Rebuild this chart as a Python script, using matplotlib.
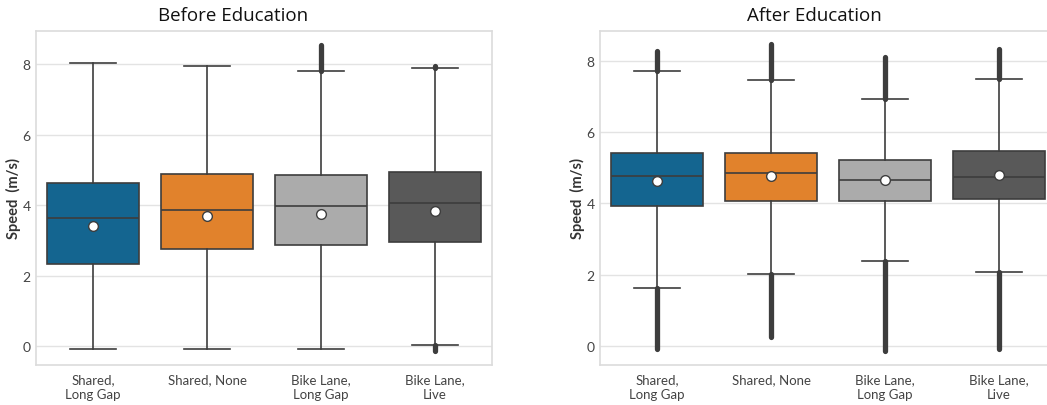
import matplotlib
matplotlib.use("Agg")
import matplotlib.pyplot as plt

plt.rcParams['font.family'] = ['Lato', 'DejaVu Sans']

categories = ["Shared,\nLong Gap", "Shared, None", "Bike Lane,\nLong Gap", "Bike Lane,\nLive"]
box_colors = ["#146590", "#E1822C", "#ABABAB", "#595959"]

# Before education: box statistics (m/s)
before_whislo = [-0.08, -0.08, -0.08, 0.02]
before_q1 = [2.33, 2.76, 2.87, 2.96]
before_med = [3.64, 3.87, 3.97, 4.05]
before_q3 = [4.63, 4.87, 4.85, 4.93]
before_whishi = [8.03, 7.96, 7.81, 7.88]
before_mean = [3.41, 3.68, 3.75, 3.83]
before_out_lo = [None, None, None, -0.14]
before_out_hi = [None, None, 8.55, 7.95]

# After education: box statistics (m/s)
after_whislo = [1.64, 2.02, 2.38, 2.09]
after_q1 = [3.92, 4.06, 4.07, 4.11]
after_med = [4.76, 4.85, 4.65, 4.73]
after_q3 = [5.42, 5.40, 5.21, 5.47]
after_whishi = [7.70, 7.45, 6.93, 7.49]
after_mean = [4.62, 4.78, 4.66, 4.80]
after_out_lo = [-0.08, 0.26, -0.15, -0.08]
after_out_hi = [8.28, 8.47, 8.10, 8.33]

LINE = "#3d3d3d"
W, H = 1047, 406

fig = plt.figure(figsize=(W / 100, H / 100), dpi=100)
fig.patch.set_facecolor("white")


def draw_panel(ax, whislo, q1, med, q3, whishi, mean, out_lo, out_hi, ylim):
    stats = []
    for i in range(len(categories)):
        stats.append(dict(whislo=whislo[i], q1=q1[i], med=med[i], q3=q3[i],
                          whishi=whishi[i], mean=mean[i], fliers=[]))
    positions = list(range(len(categories)))
    bp = ax.bxp(stats, positions=positions, widths=0.8, patch_artist=True,
                showmeans=True, showfliers=False,
                boxprops=dict(edgecolor=LINE, linewidth=1.2),
                medianprops=dict(color=LINE, linewidth=1.2),
                whiskerprops=dict(color=LINE, linewidth=1.2),
                capprops=dict(color=LINE, linewidth=1.2),
                meanprops=dict(marker='o', markerfacecolor='white',
                               markeredgecolor=LINE, markersize=7,
                               markeredgewidth=1.0))
    for patch, c in zip(bp['boxes'], box_colors):
        patch.set_facecolor(c)
    # dense outlier runs beyond the whiskers
    for i in positions:
        if out_hi[i] is not None:
            ax.plot([i, i], [whishi[i], out_hi[i]], color=LINE, lw=3.8,
                    solid_capstyle='round', zorder=3)
        if out_lo[i] is not None:
            ax.plot([i, i], [out_lo[i], whislo[i]], color=LINE, lw=3.8,
                    solid_capstyle='round', zorder=3)
    ax.set_xlim(-0.5, len(categories) - 0.5)
    ax.set_ylim(*ylim)
    ax.set_yticks([0, 2, 4, 6, 8])
    ax.set_xticks(positions)
    ax.set_xticklabels(categories, fontsize=9.5, color="#444444", linespacing=1.3,
                       va='top')
    ax.tick_params(axis='both', length=0, labelcolor="#444444")
    ax.tick_params(axis='y', labelsize=10, pad=4)
    ax.tick_params(axis='x', pad=6)
    ax.grid(axis='y', color="#e3e3e3", linewidth=1.0)
    ax.set_axisbelow(True)
    for s in ax.spines.values():
        s.set_color("#dcdcdc")
        s.set_linewidth(1.2)
    ax.set_ylabel("Speed  (m/s)", fontsize=10.5, fontweight='bold', color="#333333")
    ax.yaxis.set_label_coords(-0.032, 0.5)


ax1 = fig.add_axes([36 / W, (H - 366) / H, 456 / W, 334 / H])
draw_panel(ax1, before_whislo, before_q1, before_med, before_q3, before_whishi,
           before_mean, before_out_lo, before_out_hi, (-0.54, 8.94))

ax2 = fig.add_axes([600 / W, (H - 366) / H, 456 / W, 334 / H])
draw_panel(ax2, after_whislo, after_q1, after_med, after_q3, after_whishi,
           after_mean, after_out_lo, after_out_hi, (-0.53, 8.83))

fig.text(233 / W, 1 - 16 / H, "Before Education", ha='center', va='center',
         fontsize=13.5, color="#111111", family=['Open Sans', 'DejaVu Sans'])
fig.text(814 / W, 1 - 16 / H, "After Education", ha='center', va='center',
         fontsize=13.5, color="#111111", family=['Open Sans', 'DejaVu Sans'])

fig.savefig("out.png", dpi=100, facecolor="white")
